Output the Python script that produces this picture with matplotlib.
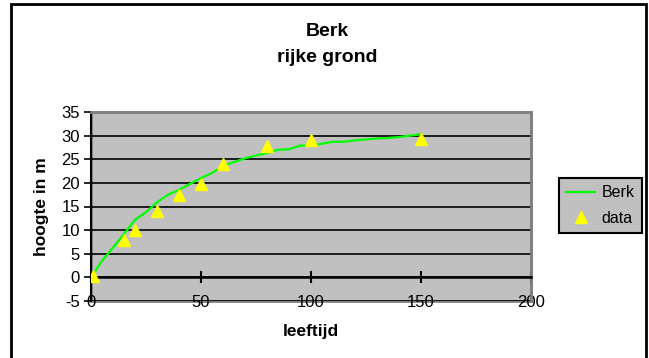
import matplotlib
matplotlib.use('Agg')
import matplotlib.pyplot as plt
from matplotlib.patches import Rectangle

plt.rcParams['font.family'] = ['Liberation Sans', 'DejaVu Sans']
plt.rcParams['axes.unicode_minus'] = False

# model curve (Berk)
leeftijd_model = [0, 5, 10, 15, 20, 25, 30, 35, 40, 45, 50, 55, 60, 65, 70, 75,
                  80, 85, 90, 95, 100, 105, 110, 115, 120, 125, 130, 135, 140, 145, 150]
hoogte_model = [0, 3.5, 6.3, 9.2, 12.2, 13.8, 15.9, 17.5, 18.5, 19.8, 21.0, 22.1,
                23.6, 24.4, 25.2, 25.8, 26.3, 27.0, 27.1, 27.9, 27.9, 28.3, 28.7,
                28.7, 29.0, 29.2, 29.4, 29.5, 29.7, 30.0, 30.3]

# measured data
leeftijd_data = [1, 15, 20, 30, 40, 50, 60, 80, 100, 150]
hoogte_data = [0.3, 7.9, 10.0, 14.0, 17.4, 19.8, 24.0, 27.9, 29.1, 29.2]

fig = plt.figure(figsize=(6.49, 3.58), dpi=100)
ax = fig.add_axes([91 / 649, 1 - 301 / 358, 440 / 649, 189 / 358])

ax.set_facecolor('#C0C0C0')
ax.patch.set_edgecolor('#808080')
ax.patch.set_linewidth(2)

ax.plot(leeftijd_model, hoogte_model, color='#00FF00', lw=1.6, label='Berk', zorder=3)
ax.plot(leeftijd_data, hoogte_data, ls='none', marker='^', ms=9, color='#FFFF00',
        markeredgecolor='#FFFF00', label='data', zorder=4)

ax.set_xlim(0, 200)
ax.set_ylim(-5, 35)
ax.set_xticks([0, 50, 100, 150, 200])
ax.set_yticks(range(-5, 36, 5))

ax.grid(axis='y', color='black', lw=1.2, zorder=1)
ax.set_axisbelow(True)

for s in ['top', 'right']:
    ax.spines[s].set_color('#808080')
    ax.spines[s].set_linewidth(2)
ax.spines['left'].set_color('black')
ax.spines['left'].set_linewidth(1.5)
ax.spines['bottom'].set_position(('data', 0))
ax.spines['bottom'].set_color('black')
ax.spines['bottom'].set_linewidth(1.8)

ax.tick_params(axis='y', direction='out', length=5, width=1.2, labelsize=12, pad=3)
ax.tick_params(axis='x', direction='inout', length=8, width=1.5, labelsize=12, pad=9)

ax.set_xlabel('leeftijd', fontsize=12.5, fontweight='bold', va='center')
ax.xaxis.set_label_coords(0.5, -0.164)
ax.set_ylabel('hoogte in m', fontsize=12.5, fontweight='bold', va='center')
ax.yaxis.set_label_coords(-0.112, 0.5)

fig.text(327 / 649, 1 - 31 / 358, 'Berk', ha='center', va='center',
         fontsize=14, fontweight='bold')
fig.text(327 / 649, 1 - 57 / 358, 'rijke grond', ha='center', va='center',
         fontsize=14, fontweight='bold')

leg = fig.legend(loc='upper left', bbox_to_anchor=(559 / 649, 1 - 178 / 358),
                 fontsize=11.5, frameon=True, fancybox=False, framealpha=1,
                 handlelength=1.8, handletextpad=0.4, borderpad=0.45,
                 labelspacing=0.65, borderaxespad=0)
leg.get_frame().set_facecolor('#C0C0C0')
leg.get_frame().set_edgecolor('black')
leg.get_frame().set_linewidth(1.5)

# outer chart border
fig.add_artist(Rectangle((11 / 649, -0.05), (646 - 11) / 649, 1.05 - 4 / 358,
                         transform=fig.transFigure, fill=False,
                         edgecolor='black', lw=2))

fig.savefig('out.png', dpi=100)
